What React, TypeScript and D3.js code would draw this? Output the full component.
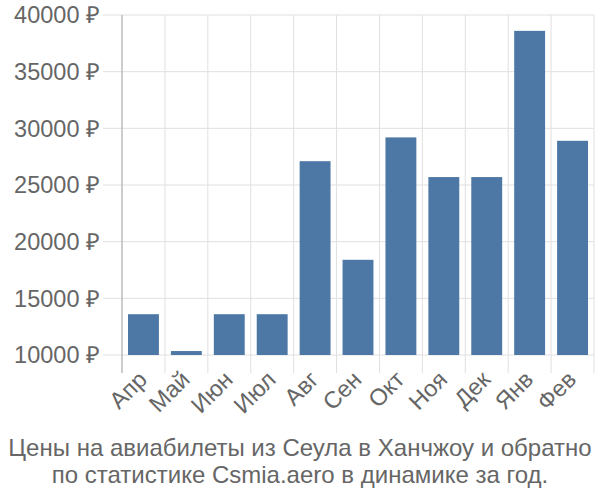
import React from "react";
import * as d3 from "d3";

const months = ["Апр", "Май", "Июн", "Июл", "Авг", "Сен", "Окт", "Ноя", "Дек", "Янв", "Фев"];
const prices = [13600, 10350, 13600, 13600, 27100, 18400, 29200, 25700, 25700, 38600, 28900];
const yTicks = [10000, 15000, 20000, 25000, 30000, 35000, 40000];
const titleLines = [
  "Цены на авиабилеты из Сеула в Ханчжоу и обратно",
  "по статистике Csmia.aero в динамике за год.",
];

export default function App() {
  const W = 600, H = 500;
  const left = 122, right = 594, top = 15, base = 355, bottomExt = 373;
  const x = d3.scaleBand<string>().domain(months).range([left, right]).paddingInner(0.28).paddingOuter(0.14);
  const step = x.step();
  const y = d3.scaleLinear().domain([10000, 40000]).range([base, top]);
  const font = "'Liberation Sans', Arial, sans-serif";
  const fs = 23.5;
  const gridLines = d3.range(months.length + 1).map((i) => left + i * step);
  return (
    <svg width={W} height={H} style={{ position: "absolute", left: 0, top: 0 }} fontFamily={font}>
      {gridLines.map((gx, i) => (
        <line key={"v" + i} x1={gx} x2={gx} y1={top} y2={bottomExt} stroke="#e0e0e0" strokeWidth={1} />
      ))}
      {yTicks.map((t) => (
        <line key={"h" + t} x1={103} x2={right} y1={y(t)} y2={y(t)} stroke="#e0e0e0" strokeWidth={1} />
      ))}
      <line x1={left} x2={left} y1={top} y2={bottomExt} stroke="#aaaaaa" strokeWidth={1} />
      {months.map((m, i) => (
        <rect key={m} x={x(m)} y={y(prices[i])} width={x.bandwidth()} height={base - y(prices[i])} fill="#4d78a6" />
      ))}
      {yTicks.map((t) => (
        <text key={"t" + t} x={100} y={y(t)} dy="0.35em" textAnchor="end" fontSize={fs} fill="#666">
          {t} ₽
        </text>
      ))}
      {months.map((m) => {
        const cx = (x(m) as number) + x.bandwidth() / 2 + 5;
        return (
          <text key={"l" + m} transform={`translate(${cx},${381}) rotate(-45)`} textAnchor="end" fontSize={fs} fill="#666">
            {m}
          </text>
        );
      })}
      {titleLines.map((l, i) => (
        <text key={"ti" + i} x={W / 2} y={456 + i * 27} textAnchor="middle" fontSize={24} fill="#666">
          {l}
        </text>
      ))}
    </svg>
  );
}
